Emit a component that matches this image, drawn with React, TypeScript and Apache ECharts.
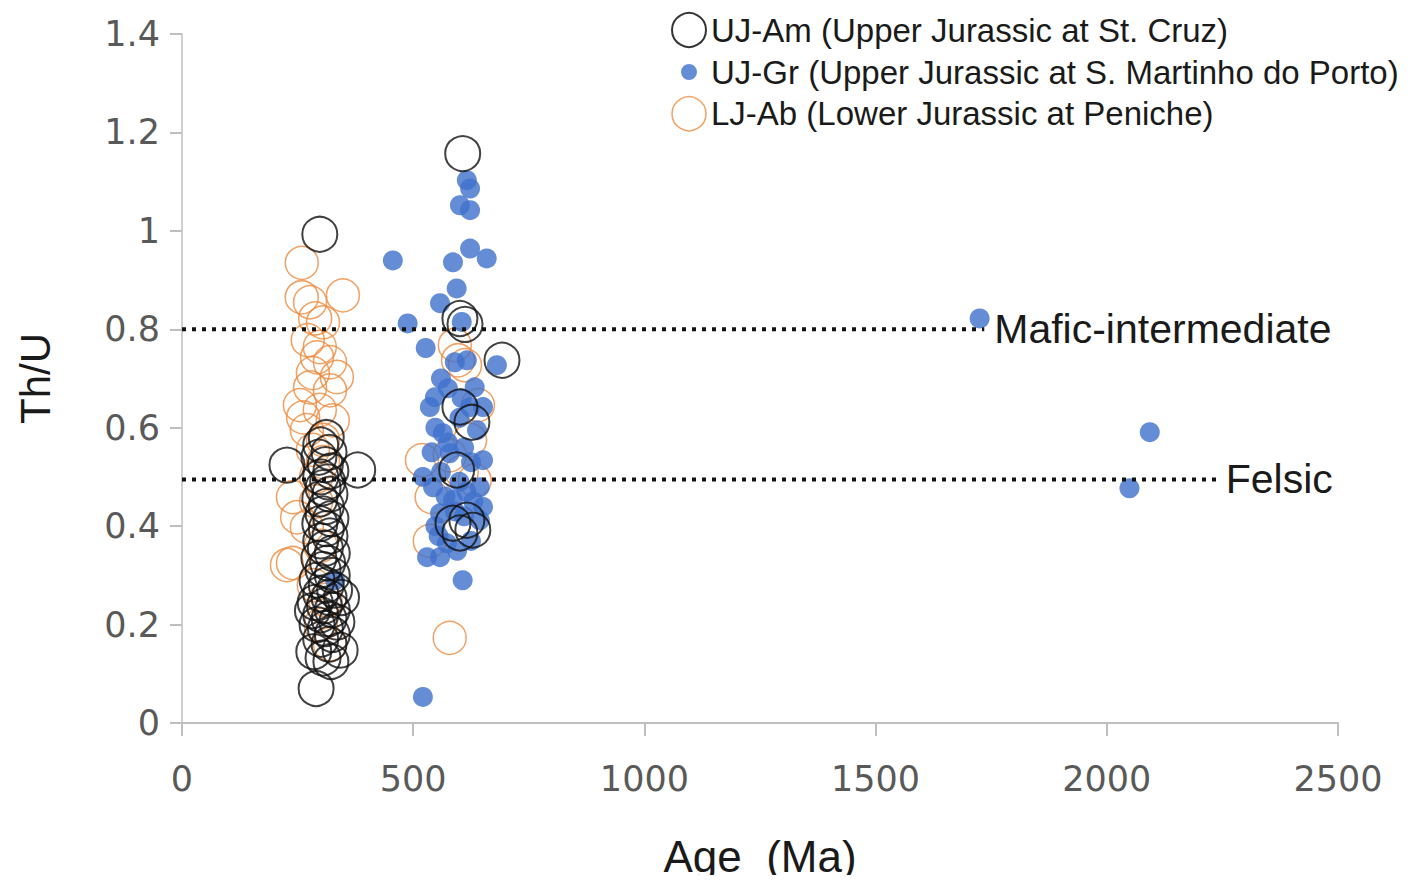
import React, { useEffect, useRef } from "react";
import * as echarts from "echarts";

// [Age (Ma), Th/U]
const ujAm: [number, number][] = [
  [298, 0.993], [227, 0.524], [380, 0.514],
  [312, 0.58], [300, 0.565], [318, 0.55], [296, 0.54], [310, 0.525], [322, 0.512],
  [300, 0.5], [315, 0.49], [305, 0.478], [320, 0.465], [298, 0.455], [312, 0.44],
  [305, 0.425], [322, 0.415], [298, 0.405], [312, 0.395], [320, 0.38], [300, 0.37],
  [310, 0.355], [325, 0.345], [296, 0.335], [315, 0.325], [305, 0.312], [325, 0.3],
  [292, 0.29], [312, 0.28], [330, 0.27], [300, 0.262], [318, 0.255], [345, 0.255],
  [288, 0.245], [308, 0.238], [325, 0.23], [282, 0.228], [300, 0.22], [318, 0.212],
  [335, 0.205], [292, 0.2], [310, 0.192], [325, 0.18], [300, 0.17], [318, 0.16],
  [342, 0.148], [285, 0.145], [305, 0.132], [322, 0.125], [290, 0.07],
  [607, 1.157], [601, 0.822], [612, 0.81], [692, 0.737], [601, 0.642], [627, 0.611],
  [594, 0.514], [586, 0.406], [616, 0.412], [601, 0.386], [629, 0.392],
];

const ujGr: [number, number][] = [
  [616, 1.103], [623, 1.086], [601, 1.052], [623, 1.042], [456, 0.94], [586, 0.936],
  [623, 0.964], [659, 0.944], [594, 0.883], [558, 0.853], [488, 0.812], [605, 0.815],
  [527, 0.762], [590, 0.733], [616, 0.737], [681, 0.727], [633, 0.682], [547, 0.662],
  [536, 0.642], [623, 0.642], [651, 0.642], [564, 0.589], [638, 0.595], [579, 0.548],
  [651, 0.534], [521, 0.5], [543, 0.479], [644, 0.479], [586, 0.453], [651, 0.439],
  [558, 0.426], [644, 0.412], [573, 0.365], [530, 0.337], [558, 0.337], [607, 0.29],
  [548, 0.6], [600, 0.62], [575, 0.57], [610, 0.56], [625, 0.53], [560, 0.51],
  [600, 0.49], [615, 0.47], [570, 0.46], [630, 0.45], [590, 0.43], [610, 0.42],
  [548, 0.4], [625, 0.37], [595, 0.35], [560, 0.7], [575, 0.68], [605, 0.66],
  [540, 0.55], [555, 0.38],
  [521, 0.053], [331, 0.29], [1725, 0.822], [2093, 0.591], [2049, 0.477],
];

const ljAb: [number, number][] = [
  [259, 0.935], [348, 0.869], [259, 0.865], [277, 0.855], [288, 0.822], [305, 0.814],
  [272, 0.778], [298, 0.764], [292, 0.743], [320, 0.733], [283, 0.711], [335, 0.703],
  [277, 0.682], [320, 0.676], [255, 0.646], [298, 0.636], [262, 0.621], [326, 0.615],
  [270, 0.595], [305, 0.575], [283, 0.555], [305, 0.53], [290, 0.5], [240, 0.459],
  [249, 0.418], [270, 0.398], [227, 0.321], [240, 0.325], [290, 0.45], [300, 0.36],
  [285, 0.28], [310, 0.25], [300, 0.2], [320, 0.16],
  [519, 0.534], [540, 0.459], [579, 0.173], [536, 0.37], [590, 0.768], [612, 0.727],
  [640, 0.646], [623, 0.575], [579, 0.544], [633, 0.493], [605, 0.51], [597, 0.737],
];

const maficLine: [number, number][] = [[0, 0.8], [1735, 0.8]];
const felsicLine: [number, number][] = [[0, 0.495], [2240, 0.495]];

const seriesNames = [
  "UJ-Am (Upper Jurassic at St. Cruz)",
  "UJ-Gr (Upper Jurassic at S. Martinho do Porto)",
  "LJ-Ab (Lower Jurassic at Peniche)",
];
const lineLabels = ["Mafic-intermediate", "Felsic"];

const FONT = "'Liberation Sans', Arial, sans-serif";
const TICK_FONT = "'DejaVu Sans', 'Liberation Sans', sans-serif";
const BLUE = "#3f70cc";
const ORANGE = "#ee8a3c";

const smallDotIcon =
  "path://M0,0L0.01,0L0.01,0.01Z M34,34L34.01,34L34.01,34.01Z M9,17a8,8 0 1,0 16,0a8,8 0 1,0 -16,0Z";

export default function App() {
  const ref = useRef<HTMLDivElement>(null);
  useEffect(() => {
    if (!ref.current) return;
    const chart = echarts.init(ref.current, undefined, { renderer: "svg" });
    const dotted = (color: string) => ({ type: [4, 6] as any, width: 4, color });
    chart.setOption({
      animation: false,
      backgroundColor: "#ffffff",
      textStyle: { fontFamily: FONT },
      grid: { left: 182, right: 80, top: 34, bottom: 160, containLabel: false },
      legend: {
        orient: "vertical",
        left: 671,
        top: 12,
        padding: 0,
        itemWidth: 34,
        itemHeight: 34,
        itemGap: 7,
        selectedMode: false,
        textStyle: { fontSize: 33, lineHeight: 34, color: "#1a1a1a", fontFamily: FONT },
        data: [
          {
            name: seriesNames[0],
            icon: "circle",
            itemStyle: { color: "transparent", borderColor: "#000", borderWidth: 2 },
          },
          { name: seriesNames[1], icon: smallDotIcon, itemStyle: { color: BLUE, borderWidth: 0 } },
          {
            name: seriesNames[2],
            icon: "circle",
            itemStyle: { color: "transparent", borderColor: ORANGE, borderWidth: 1.5 },
          },
        ],
      },
      xAxis: {
        type: "value",
        min: 0,
        max: 2500,
        interval: 500,
        name: "Age  (Ma)",
        nameLocation: "middle",
        nameGap: 111,
        nameTextStyle: { fontSize: 44, color: "#1a1a1a", fontFamily: FONT },
        axisLine: { show: true, lineStyle: { color: "#bfbfbf", width: 2 } },
        axisTick: { show: true, length: 13, lineStyle: { color: "#bfbfbf", width: 2 } },
        axisLabel: {
          fontSize: 35,
          color: "#595959",
          margin: 38,
          fontFamily: TICK_FONT,
          formatter: (v: number) => String(v),
        },
        splitLine: { show: false },
      },
      yAxis: {
        type: "value",
        min: 0,
        max: 1.4,
        interval: 0.2,
        name: "Th/U",
        nameLocation: "middle",
        nameGap: 126,
        nameTextStyle: { fontSize: 42, color: "#1a1a1a", fontFamily: FONT },
        axisLine: { show: true, lineStyle: { color: "#d0d0d0", width: 2 } },
        axisTick: { show: true, length: 12, lineStyle: { color: "#bfbfbf", width: 2 } },
        axisLabel: { fontSize: 35, color: "#595959", margin: 22, fontFamily: TICK_FONT },
        splitLine: { show: false },
      },
      series: [
        {
          name: seriesNames[2],
          type: "scatter",
          data: ljAb,
          symbol: "circle",
          symbolSize: 33,
          itemStyle: { color: "transparent", borderColor: ORANGE, borderWidth: 1.5 },
          z: 2,
        },
        {
          name: seriesNames[1],
          type: "scatter",
          data: ujGr,
          symbol: "circle",
          symbolSize: 20,
          itemStyle: { color: BLUE },
          z: 3,
        },
        {
          name: seriesNames[0],
          type: "scatter",
          data: ujAm,
          symbol: "circle",
          symbolSize: 35,
          itemStyle: { color: "transparent", borderColor: "#111", borderWidth: 2 },
          z: 4,
        },
        {
          name: lineLabels[0],
          type: "line",
          data: maficLine,
          symbol: "none",
          silent: true,
          lineStyle: dotted("#111"),
          endLabel: {
            show: true,
            formatter: lineLabels[0],
            fontSize: 41,
            color: "#1a1a1a",
            distance: 10,
            fontFamily: FONT,
          },
          z: 5,
        },
        {
          name: lineLabels[1],
          type: "line",
          data: felsicLine,
          symbol: "none",
          silent: true,
          lineStyle: dotted("#111"),
          endLabel: {
            show: true,
            formatter: lineLabels[1],
            fontSize: 41,
            color: "#1a1a1a",
            distance: 8,
            fontFamily: FONT,
          },
          z: 5,
        },
      ],
    });
    return () => chart.dispose();
  }, []);
  return <div ref={ref} style={{ width: 1418, height: 883, margin: -8 }} />;
}
